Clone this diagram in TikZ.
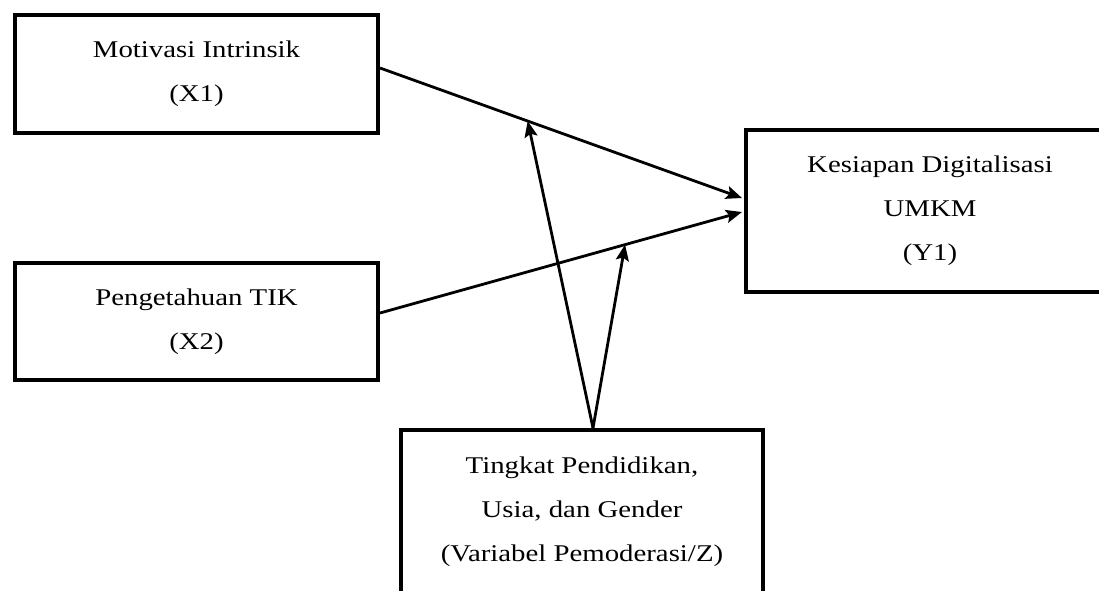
\documentclass[tikz,border=0pt]{standalone}
\usepackage{fontspec}
\setmainfont[FakeStretch=1.2]{Liberation Serif}
\usetikzlibrary{arrows.meta}
\begin{document}
\begin{tikzpicture}[x=1pt,y=-1pt,
  box/.style={draw=black,line width=4pt,rectangle,align=center,inner sep=0pt,
    font=\fontsize{24}{44}\selectfont},
  conn/.style={line width=2.8pt,-{Stealth[length=16pt,width=13pt,inset=3pt]}}]
\clip (0,0) rectangle (1099,590);
\fill[white] (0,0) rectangle (1099,590);
\node[box,minimum width=363pt,minimum height=118pt] (x1) at (196.5,74) {Motivasi Intrinsik\\(X1)};
\node[box,minimum width=363pt,minimum height=117pt] (x2) at (196.5,321.5) {Pengetahuan TIK\\(X2)};
\node[box,minimum width=368pt,minimum height=162pt] (y1) at (930,211) {Kesiapan Digitalisasi\\UMKM\\(Y1)};
\node[box,minimum width=362pt,minimum height=164pt] (z) at (582,512) {Tingkat Pendidikan,\\Usia, dan Gender\\(Variabel Pemoderasi/Z)};
\draw[conn] ([yshift=6pt]x1.east) -- ([xshift=-2pt,yshift=13pt]y1.west)
  coordinate[pos=0.408] (m1);
\draw[conn] ([yshift=8.5pt]x2.east) -- ([xshift=-2pt,yshift=-1pt]y1.west)
  coordinate[pos=0.677] (m2);
\draw[conn] ([xshift=11pt]z.north) -- (m1);
\draw[conn] ([xshift=11pt]z.north) -- (m2);
\end{tikzpicture}
\end{document}
